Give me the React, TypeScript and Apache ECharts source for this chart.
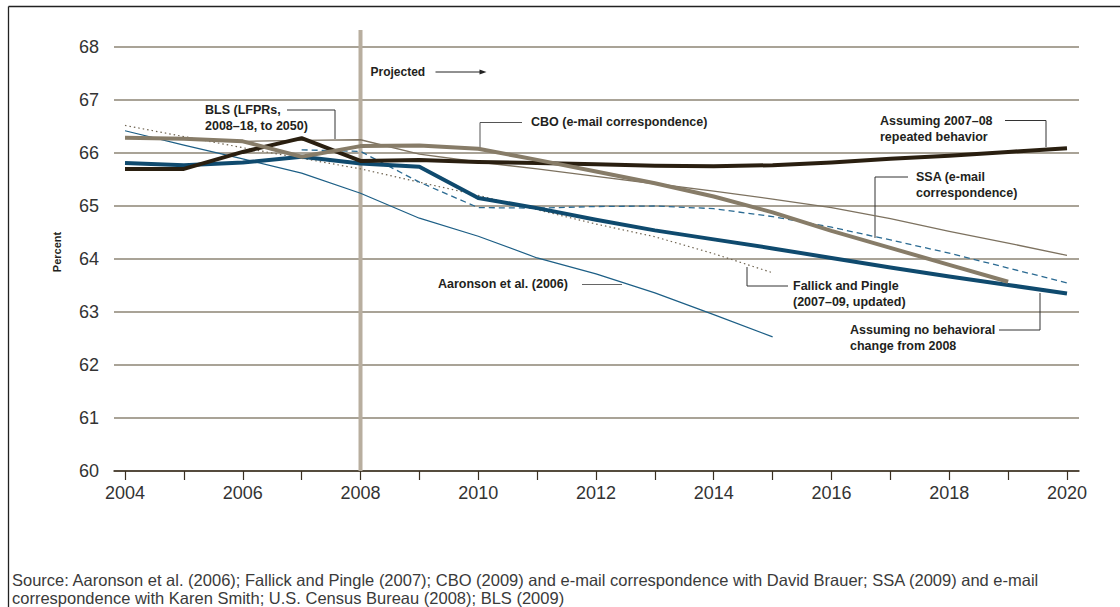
import React, { useEffect, useRef } from "react";
import * as echarts from "echarts";

const years = [2004, 2005, 2006, 2007, 2008, 2009, 2010, 2011, 2012, 2013, 2014, 2015, 2016, 2017, 2018, 2019, 2020];
const labelYears = [2004, 2006, 2008, 2010, 2012, 2014, 2016, 2018, 2020];

const repeatedBehavior = [65.70, 65.70, 66.02, 66.28, 65.85, 65.87, 65.83, 65.81, 65.79, 65.76, 65.75, 65.77, 65.82, 65.89, 65.95, 66.02, 66.09];
const noBehavioralChange = [65.81, 65.77, 65.82, 65.93, 65.80, 65.74, 65.15, 64.96, 64.74, 64.54, 64.37, 64.20, 64.02, 63.84, 63.67, 63.51, 63.35];
const cbo = [66.29, 66.27, 66.22, 65.93, 66.13, 66.14, 66.08, 65.87, 65.65, 65.43, 65.18, 64.88, 64.53, 64.21, 63.89, 63.57, null];
const bls = [null, null, 66.22, 66.24, 66.25, 65.98, 65.83, 65.70, 65.56, 65.42, 65.28, 65.13, 64.97, 64.76, 64.52, 64.30, 64.07];
const aaronson = [66.42, 66.15, 65.89, 65.62, 65.24, 64.77, 64.43, 64.02, 63.72, 63.36, 62.95, 62.53, null, null, null, null, null];
const fallick = [66.52, 66.31, 66.10, 65.90, 65.70, 65.45, 65.20, 64.93, 64.66, 64.42, 64.10, 63.74, null, null, null, null, null];
const ssa = [null, null, null, 66.06, 66.03, 65.45, 64.97, 64.96, 64.99, 65.00, 64.95, 64.80, 64.60, 64.36, 64.11, 63.83, 63.55];

const pairs = (vals: (number | null)[]) =>
  years.map((y, i) => [y, vals[i]]).filter((p) => p[1] !== null);

const FONT = "'Liberation Sans', Arial, sans-serif";
const TXT = "#231f20";

function txt(x: number, y: number, text: string, size = 12.5) {
  return {
    type: "text",
    x,
    y,
    silent: true,
    style: {
      text,
      fill: TXT,
      font: `bold ${size}px ${FONT}`,
      textVerticalAlign: "middle",
    },
  };
}

function leader(points: number[][], color = "#333") {
  return {
    type: "polyline",
    silent: true,
    shape: { points },
    style: { stroke: color, lineWidth: 1, fill: "none" },
  };
}

export default function App() {
  const ref = useRef<HTMLDivElement>(null);

  useEffect(() => {
    document.body.style.margin = "0";
    const chart = echarts.init(ref.current!, null, { renderer: "svg" });

    const line = (name: string, vals: (number | null)[], color: string, width: number, type: any = "solid", z = 2) => ({
      name,
      type: "line",
      data: pairs(vals),
      symbol: "none",
      z,
      lineStyle: { color, width, type, cap: "butt", join: "round" },
    });

    chart.setOption({
      animation: false,
      backgroundColor: "#ffffff",
      grid: { left: 114, right: 41, top: 47, bottom: 136 },
      xAxis: {
        type: "value",
        min: 2003.813,
        max: 2020.204,
        splitLine: { show: false },
        axisLine: { show: true, lineStyle: { color: "#3a2f20", width: 1.5 } },
        axisTick: {
          show: true,
          customValues: years,
          length: 9,
          inside: false,
          lineStyle: { color: "#3a2f20", width: 1.2 },
        },
        axisLabel: {
          customValues: labelYears,
          formatter: (v: number) => String(v),
          color: "#333",
          fontSize: 18,
          fontFamily: FONT,
          margin: 13,
        },
      },
      yAxis: {
        type: "value",
        min: 60,
        max: 68,
        interval: 1,
        axisLine: { show: false },
        axisTick: { show: false },
        axisLabel: { color: "#333", fontSize: 18, fontFamily: FONT, margin: 15 },
        splitLine: { show: true, lineStyle: { color: "#8c8474", width: 1.5 } },
      },
      series: [
        line("Fallick and Pingle", fallick, "#6e6350", 1.2, [1.5, 3], 2),
        line("Aaronson et al. (2006)", aaronson, "#1d5f86", 1.2, "solid", 2),
        line("SSA", ssa, "#2a6a92", 1.3, [6, 4], 2),
        line("BLS", bls, "#7d7260", 1.3, "solid", 2),
        line("Assuming no behavioral change from 2008", noBehavioralChange, "#0f4a6e", 4, "solid", 3),
        line("Assuming 2007–08 repeated behavior", repeatedBehavior, "#2a1f10", 4, "solid", 4),
        line("CBO", cbo, "#877c68", 4, "solid", 5),
      ],
    });

    const x08 = chart.convertToPixel({ xAxisIndex: 0 }, 2008) as number;
    const yBottom = chart.convertToPixel({ yAxisIndex: 0 }, 60) as number;

    const SRC_FONT = `16.5px ${FONT}`;

    chart.setOption({
      graphic: [
        // frame
        { type: "line", silent: true, shape: { x1: 8.5, y1: 6.5, x2: 1120, y2: 6.5 }, style: { stroke: "#222", lineWidth: 1.3 } },
        { type: "line", silent: true, shape: { x1: 8.5, y1: 6.5, x2: 8.5, y2: 607 }, style: { stroke: "#222", lineWidth: 1.3 } },
        // projected divider
        { type: "line", silent: true, z: 1, shape: { x1: x08, y1: 30, x2: x08, y2: yBottom }, style: { stroke: "#b8ae9f", lineWidth: 4 } },
        txt(x08 + 10, 72, "Projected", 12),
        leader([[x08 + 75, 72], [x08 + 120, 72]], "#222"),
        { type: "polygon", silent: true, shape: { points: [[x08 + 126, 72], [x08 + 119, 69.5], [x08 + 119, 74.5]] }, style: { fill: "#222" } },
        // Percent
        {
          type: "text",
          silent: true,
          x: 57,
          y: 252,
          rotation: Math.PI / 2,
          style: { text: "Percent", fill: TXT, font: `bold 11px ${FONT}`, textAlign: "center", textVerticalAlign: "middle" },
        },
        // BLS
        txt(205, 110, "BLS (LFPRs,"),
        txt(205, 126, "2008–18, to 2050)"),
        leader([[287, 110], [335, 110], [335, 139]]),
        // CBO
        txt(531, 122, "CBO (e-mail correspondence)"),
        leader([[522, 122.5], [480, 122.5], [480, 148]], "#555"),
        // Repeated behavior
        txt(880, 121, "Assuming 2007–08"),
        txt(880, 137, "repeated behavior"),
        leader([[1005, 120.5], [1046, 120.5], [1046, 147]]),
        // SSA
        txt(916, 177, "SSA (e-mail"),
        txt(916, 193, "correspondence)"),
        leader([[908, 177], [875, 177], [875, 238]]),
        // Aaronson
        txt(438, 284, "Aaronson et al. (2006)"),
        leader([[582, 284.5], [622, 284.5]], "#666"),
        // Fallick
        txt(793, 286, "Fallick and Pingle"),
        txt(793, 302, "(2007–09, updated)"),
        leader([[788, 286], [747, 286], [747, 267]]),
        // No behavioral change
        txt(850, 330, "Assuming no behavioral"),
        txt(850, 346, "change from 2008"),
        leader([[999, 330], [1040, 330], [1040, 293]]),
        // source
        {
          type: "text",
          silent: true,
          x: 12,
          y: 580,
          style: {
            text: "Source: Aaronson et al. (2006); Fallick and Pingle (2007); CBO (2009) and e-mail correspondence with David Brauer; SSA (2009) and e-mail",
            fill: "#3a3a3a",
            font: SRC_FONT,
            textVerticalAlign: "middle",
          },
        },
        {
          type: "text",
          silent: true,
          x: 12,
          y: 598,
          style: {
            text: "correspondence with Karen Smith; U.S. Census Bureau (2008); BLS (2009)",
            fill: "#3a3a3a",
            font: SRC_FONT,
            textVerticalAlign: "middle",
          },
        },
      ],
    });

    return () => chart.dispose();
  }, []);

  return <div ref={ref} style={{ width: 1120, height: 607 }} />;
}
